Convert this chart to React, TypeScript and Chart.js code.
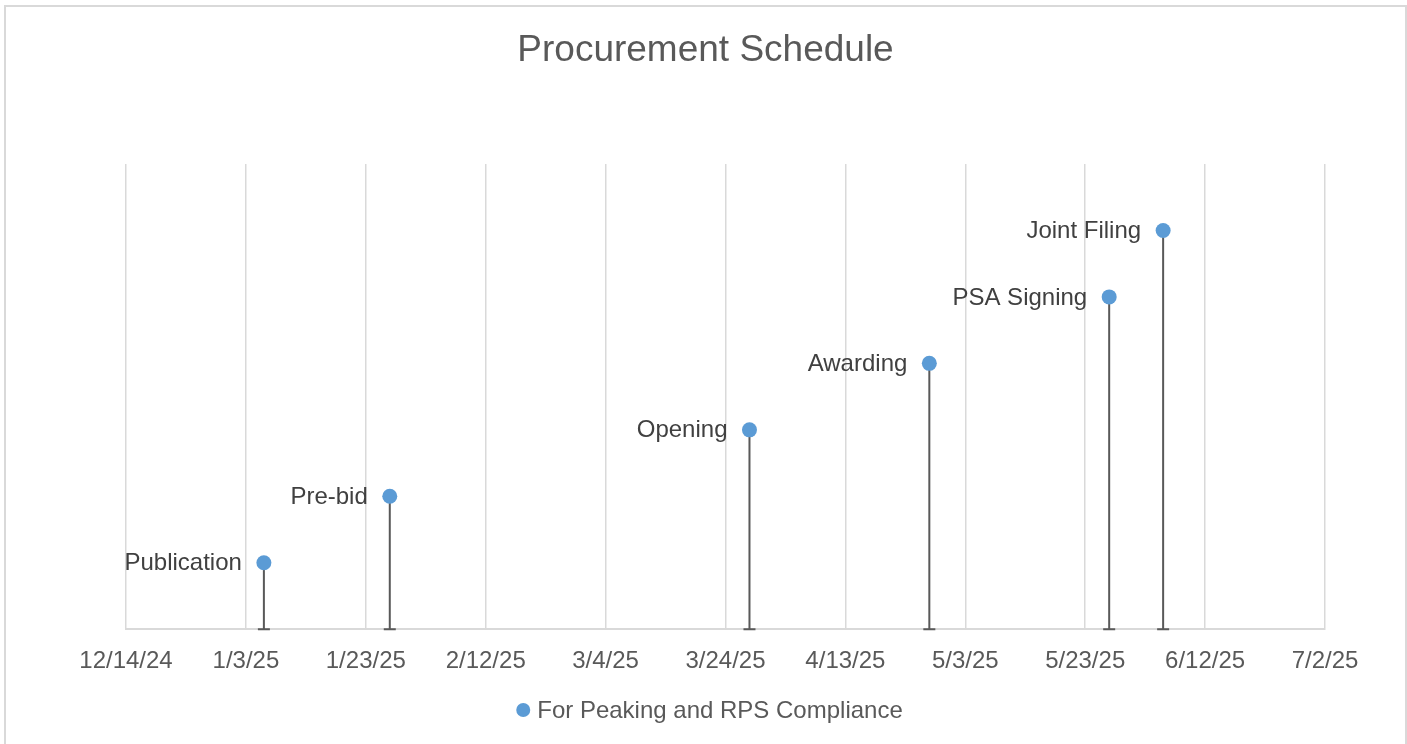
import React, { useEffect, useRef } from "react";
import { Chart, registerables } from "chart.js";

Chart.register(...registerables);

const chartTitle = "Procurement Schedule";
const seriesName = "For Peaking and RPS Compliance";
const eventLabels = ["Publication", "Pre-bid", "Opening", "Awarding", "PSA Signing", "Joint Filing"];
const eventDates = ["2025-01-06", "2025-01-27", "2025-03-28", "2025-04-27", "2025-05-27", "2025-06-05"];
const eventLevels = [1, 2, 3, 4, 5, 6];
const axisStartDate = "2024-12-14";
const axisEndDate = "2025-07-02";
const tickStepDays = 20;
const yMax = 7;

const DAY = 86400000;
function toUTC(s: string): number {
  const [y, m, d] = s.split("-").map(Number);
  return Date.UTC(y, m - 1, d);
}
function dayOffset(s: string): number {
  return Math.round((toUTC(s) - toUTC(axisStartDate)) / DAY);
}
function formatTick(v: number): string {
  const dt = new Date(toUTC(axisStartDate) + v * DAY);
  return `${dt.getUTCMonth() + 1}/${dt.getUTCDate()}/${String(dt.getUTCFullYear()).slice(2)}`;
}

const FONT = '"Liberation Sans", Arial, sans-serif';
const TEXT = "#595959";
const GRID = "#d9d9d9";
const MARK = "#5B9BD5";

const decorations = {
  id: "decorations",
  beforeDatasetsDraw(chart: any) {
    const meta = chart.getDatasetMeta(0);
    const y0 = chart.scales.y.getPixelForValue(0);
    const ctx = chart.ctx;
    ctx.save();
    ctx.strokeStyle = "#595959";
    ctx.lineWidth = 2;
    meta.data.forEach((pt: any) => {
      ctx.beginPath();
      ctx.moveTo(pt.x, pt.y);
      ctx.lineTo(pt.x, y0);
      ctx.moveTo(pt.x - 6, y0);
      ctx.lineTo(pt.x + 6, y0);
      ctx.stroke();
    });
    ctx.restore();
  },
  afterDatasetsDraw(chart: any) {
    const meta = chart.getDatasetMeta(0);
    const ctx = chart.ctx;
    ctx.save();
    ctx.font = `24px ${FONT}`;
    ctx.fillStyle = "#404040";
    ctx.textAlign = "right";
    ctx.textBaseline = "middle";
    meta.data.forEach((pt: any, i: number) => {
      ctx.fillText(eventLabels[i], pt.x - 22, pt.y + 1);
    });
    ctx.restore();
  },
  afterDraw(chart: any) {
    const ctx = chart.ctx;
    const cx = chart.width / 2 + 2;
    ctx.save();
    // title
    ctx.font = `37px ${FONT}`;
    ctx.fillStyle = TEXT;
    ctx.textAlign = "center";
    ctx.textBaseline = "alphabetic";
    ctx.fillText(chartTitle, cx, 61);
    // legend
    ctx.font = `24px ${FONT}`;
    const tw = ctx.measureText(seriesName).width;
    const markerR = 7;
    const gap = 7;
    const total = markerR * 2 + gap + tw;
    const left = cx + 4 - total / 2;
    const ly = 710;
    ctx.fillStyle = MARK;
    ctx.beginPath();
    ctx.arc(left + markerR, ly, markerR, 0, Math.PI * 2);
    ctx.fill();
    ctx.fillStyle = TEXT;
    ctx.textAlign = "left";
    ctx.textBaseline = "middle";
    ctx.fillText(seriesName, left + markerR * 2 + gap, ly + 1);
    ctx.restore();
  },
};

export default function App() {
  const ref = useRef<HTMLCanvasElement | null>(null);
  useEffect(() => {
    if (!ref.current) return;
    const chart = new Chart(ref.current, {
      type: "scatter",
      data: {
        datasets: [
          {
            label: seriesName,
            data: eventDates.map((d, i) => ({ x: dayOffset(d), y: eventLevels[i] })),
            backgroundColor: MARK,
            borderColor: MARK,
            borderWidth: 0,
            pointRadius: 7.5,
            pointHoverRadius: 7.5,
          },
        ],
      },
      options: {
        responsive: false,
        animation: false,
        devicePixelRatio: 1,
        layout: { padding: { left: 126, right: 82, top: 164, bottom: 50 } },
        scales: {
          x: {
            type: "linear",
            min: 0,
            max: dayOffset(axisEndDate),
            ticks: {
              stepSize: tickStepDays,
              callback: (v: any) => formatTick(Number(v)),
              font: { family: FONT, size: 24 },
              color: TEXT,
              padding: 18,
              maxRotation: 0,
              autoSkip: false,
            },
            grid: { color: GRID, lineWidth: 1.5, drawTicks: false },
            border: { color: GRID, width: 2 },
          },
          y: { display: false, min: 0, max: yMax },
        },
        plugins: {
          title: { display: false },
          legend: { display: false },
          tooltip: { enabled: false },
        },
      },
      plugins: [decorations],
    });
    return () => chart.destroy();
  }, []);
  return (
    <div style={{ position: "fixed", left: 0, top: 0, width: 1407, height: 744, background: "#fff", overflow: "hidden" }}>
      <div
        style={{
          position: "absolute",
          left: 4,
          top: 5,
          width: 1403,
          height: 760,
          border: `2px solid ${GRID}`,
          boxSizing: "border-box",
        }}
      />
      <canvas ref={ref} width={1407} height={744} style={{ position: "absolute", left: 0, top: 0 }} />
    </div>
  );
}
